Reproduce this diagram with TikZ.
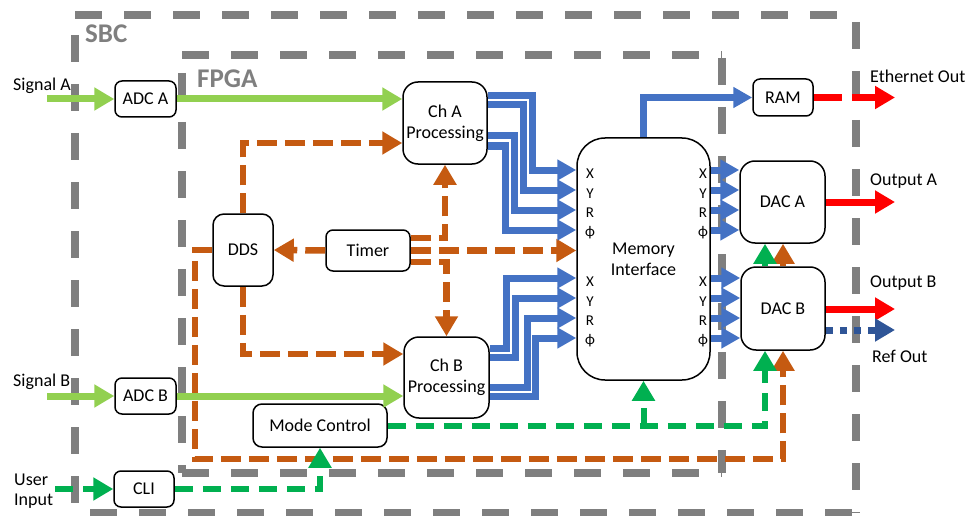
\documentclass[tikz,border=0pt]{standalone}
\usepackage{fontspec}
\setmainfont{Carlito}
\usetikzlibrary{arrows.meta}
\definecolor{frameg}{HTML}{7F7F7F}
\definecolor{adcgreen}{HTML}{92D050}
\definecolor{ctlgreen}{HTML}{00B050}
\definecolor{clkorange}{HTML}{C55A11}
\definecolor{busblue}{HTML}{4472C4}
\definecolor{refblue}{HTML}{2F5597}

\begin{document}
\begin{tikzpicture}[x=1pt,y=-1pt,
 blk/.style={draw,line width=1.5pt,rounded corners=7pt,fill=white,align=center,inner sep=1pt,font=\fontsize{18}{21}\selectfont},
 boundary/.style={draw=frameg,line width=8pt,dash pattern=on 27pt off 22pt},
 boundaryname/.style={anchor=base west,inner sep=0pt,text=frameg,font=\fontsize{27}{30}\selectfont\bfseries},
 io/.style={anchor=base west,inner sep=0pt,align=left,font=\fontsize{18}{20}\selectfont},
 portname/.style={inner sep=0pt,font=\fontsize{15}{15}\selectfont},
 headtri/.style={-{Triangle[length=20pt,width=22pt]}},
 analog/.style={headtri,draw=adcgreen,line width=7pt},
 ctrl/.style={headtri,draw=ctlgreen,line width=6pt,dash pattern=on 18pt off 10pt},
 clk/.style={headtri,draw=clkorange,line width=6.5pt,dash pattern=on 20pt off 8pt},
 bus/.style={-{Triangle[length=19pt,width=20pt]},draw=busblue,line width=7pt},
 outp/.style={headtri,draw=red,line width=7pt}]
\useasboundingbox (0,0) rectangle (966,516);
\draw[boundary] (75,15)--(856,15) (856,22)--(856,513) (75,35)--(75,513) (90,513)--(856,513);
\draw[boundary] (182,55)--(722,55) (722,58)--(722,473) (182,73)--(182,473) (182,473)--(722,473);
\node[boundaryname] (sbc) at (85,43) {SBC};
\node[boundaryname] (fpga) at (197,88) {FPGA};

\node[blk,minimum width=61pt,minimum height=36pt] (adca) at (145.5,99) {ADC A};
\node[blk,minimum width=61pt,minimum height=36pt] (adcb) at (145.5,396) {ADC B};
\node[blk,minimum width=60pt,minimum height=36pt] (cli) at (144,489) {CLI};
\node[blk,minimum width=60pt,minimum height=72pt,rounded corners=11pt] (dds) at (243,250) {DDS};
\node[blk,minimum width=84pt,minimum height=41pt] (timer) at (368,250.5) {Timer};
\node[blk,minimum width=84pt,minimum height=82pt,rounded corners=15pt] (cha) at (445,123) {Ch A\\Processing};
\node[blk,minimum width=85pt,minimum height=81pt,rounded corners=15pt] (chb) at (446.5,377.5) {Ch B\\Processing};
\node[blk,minimum width=134pt,minimum height=43pt,rounded corners=9pt] (mode) at (320,425.5) {Mode Control};
\node[blk,minimum width=133pt,minimum height=242pt,rounded corners=28pt] (mem) at (643.5,259) {Memory\\Interface};
\node[blk,minimum width=60pt,minimum height=37pt] (ram) at (783,97.5) {RAM};
\node[blk,minimum width=85pt,minimum height=82pt,rounded corners=15pt] (daca) at (782.5,202) {DAC A};
\node[blk,minimum width=84pt,minimum height=83pt,rounded corners=15pt] (dacb) at (783,308.5) {DAC B};
\foreach \p/\yy in {X/174,Y/194,R/213,ϕ/233,X/282,Y/302,R/321,ϕ/341}
 {\node[portname] (pl\yy) at (590,\yy) {\p}; \node[portname] (pr\yy) at (703,\yy) {\p};}

\node[io] (siga) at (13,91) {Signal A};
\node[io] (sigb) at (13,386) {Signal B};
\node[io,anchor=west] (usr) at (14,491) {User\\Input};
\node[io] (eth) at (870,83) {Ethernet Out};
\node[io] (oa) at (870,185) {Output A};
\node[io] (ob) at (870,287) {Output B};
\node[io] (ro) at (872,362) {Ref Out};

\draw[clk] (dds.west) -| (195,459) -| (dacb.south);
\draw[clk] (dacb.north) -- (dacb.north |- daca.south);
\draw[clk] (timer.west) -- (dds.east);
\draw[clk] (dds.north) |- (cha.west |- 0,143);
\draw[clk] (dds.south) |- (chb.west |- 0,354);
\draw[clk] (timer.east |- 0,238) -| (cha.south);
\draw[clk] (timer.east |- 0,262) -| (chb.north);
\draw[clk] (timer.east) -- (mem.west |- timer.east);

\draw[bus] (mem.north) |- (ram.west);
\draw[bus] (cha.east |- 0,96) -| (532,170) -- (mem.west |- 0,170);
\draw[bus] (cha.east |- 0,105) -| (523,190) -- (mem.west |- 0,190);
\draw[bus] (cha.east |- 0,136) -| (514,210) -- (mem.west |- 0,210);
\draw[bus] (cha.east |- 0,146) -| (505,230) -- (mem.west |- 0,230);
\draw[bus] (chb.east |- 0,348) -| (506,278) -- (mem.west |- 0,278);
\draw[bus] (chb.east |- 0,357) -| (515,298) -- (mem.west |- 0,298);
\draw[bus] (chb.east |- 0,387) -| (527,318) -- (mem.west |- 0,318);
\draw[bus] (chb.east |- 0,396) -| (535,338) -- (mem.west |- 0,338);
\foreach \yy in {170,190,210,230} \draw[bus] (mem.east |- 0,\yy) -- (daca.west |- 0,\yy);
\foreach \yy in {278,298,318,338} \draw[bus] (mem.east |- 0,\yy) -- (dacb.west |- 0,\yy);

\draw[ctrl] (55,489) coordinate (inu) -- (cli.west);
\draw[ctrl] (cli.east) -| (mode.south);
\draw[ctrl] (mode.east) -| ([xshift=-18pt]dacb.south);
\draw[ctrl] (mem.south |- mode.east) -- (mem.south);
\draw[ctrl] ([xshift=-18pt]dacb.north) -- ([xshift=-18pt]dacb.north |- daca.south);

\draw[analog] (47,99) coordinate (ina) -- (adca.west);
\draw[analog] (adca.east) -- (cha.west |- adca.east);
\draw[analog] (47,396) coordinate (inb) -- (adcb.west);
\draw[analog] (adcb.east) -- (chb.west |- adcb.east);

\draw[outp,dash pattern=on 28pt off 10pt] (ram.east) -- (895,97.5) coordinate (ethout);
\draw[outp] (daca.east) -- (895,202) coordinate (outa);
\draw[outp] (dacb.east |- 0,309) -- (895,309) coordinate (outb);
\draw[outp,draw=refblue,dash pattern=on 7pt off 7pt] (dacb.east |- 0,330) -- (895,330) coordinate (refo);
\end{tikzpicture}
\end{document}
